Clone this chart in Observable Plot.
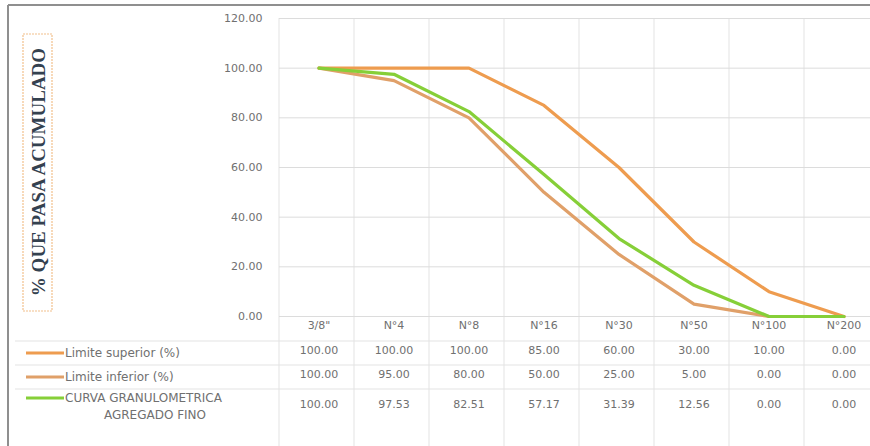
<!DOCTYPE html>
<html>
<head>
<meta charset="utf-8">
<script src="https://cdn.jsdelivr.net/npm/d3@7"></script>
<script src="https://cdn.jsdelivr.net/npm/@observablehq/plot@0.6"></script>
<style>
  html, body { margin: 0; padding: 0; background: #fff; overflow: hidden; }
  #chart { width: 870px; height: 446px; overflow: hidden; position: relative; }
</style>
</head>
<body>
<div id="chart"></div>
<script>
// Sieve sizes (categories) and cumulative % passing for each series
const categories = ['3/8"', "N°4", "N°8", "N°16", "N°30", "N°50", "N°100", "N°200"];
const limiteSuperior = [100, 100, 100, 85, 60, 30, 10, 0];
const limiteInferior = [100, 95, 80, 50, 25, 5, 0, 0];
const curvaGranulometrica = [100, 97.53, 82.51, 57.17, 31.39, 12.56, 0, 0];
const yTicks = [0, 20, 40, 60, 80, 100, 120];
const seriesNames = ["Limite superior (%)", "Limite inferior (%)", "CURVA GRANULOMETRICA AGREGADO FINO"];
const seriesColors = ["#ee9c4f", "#e0a069", "#86cf38"];
const yTitle = "% QUE PASA ACUMULADO";

const seriesValues = [limiteSuperior, limiteInferior, curvaGranulometrica];
const rows = seriesNames.flatMap((name, s) =>
  categories.map((cat, i) => ({series: name, cat, value: seriesValues[s][i]}))
);

const W = 900, H = 446;
const mL = 279, mR = 17, mT = 18, mB = 130;
const fmt = d3.format(".2f");
const textColor = "#707070";

// vertical offset (below the zero line) of each table row's text
const rowDy = [37, 61, 91];

const chart = Plot.plot({
  width: W,
  height: H,
  marginLeft: mL,
  marginRight: mR,
  marginTop: mT,
  marginBottom: mB,
  style: {fontFamily: "'DejaVu Sans', sans-serif", fontSize: "11px", maxWidth: "none", overflow: "visible"},
  x: {type: "band", domain: categories, padding: 0, axis: null},
  y: {domain: [0, 120], axis: null},
  color: {domain: seriesNames, range: seriesColors},
  marks: [
    Plot.gridY(yTicks, {stroke: "#dcdcdc", strokeOpacity: 1}),
    Plot.axisY(yTicks, {tickFormat: fmt, tickSize: 0, tickPadding: 17, fill: textColor, fontSize: 11, label: null}),
    // category header row of the data table
    Plot.text(categories, {x: d => d, frameAnchor: "bottom", dy: 12, fill: textColor, fontSize: 11}),
    // value rows of the data table
    ...seriesNames.map((name, s) =>
      Plot.text(rows.filter(r => r.series === name), {
        x: "cat", text: d => fmt(d.value), frameAnchor: "bottom", dy: rowDy[s], fill: textColor, fontSize: 11
      })
    ),
    Plot.line(rows, {x: "cat", y: "value", z: "series", stroke: "series", strokeWidth: 3.2, strokeLinejoin: "round"})
  ]
});

document.getElementById("chart").appendChild(chart);

// Table grid, legend keys, outer frame and axis title box
const svg = d3.select(chart);
const x = chart.scale("x");
const y = chart.scale("y");
const y0 = y.apply(0);
const bw = x.bandwidth;
const deco = svg.insert("g", ":first-child");

// vertical category separators running through plot and table
for (let i = 0; i <= categories.length; i++) {
  const xv = mL + i * bw;
  deco.append("line")
    .attr("x1", xv).attr("x2", xv)
    .attr("y1", mT).attr("y2", H)
    .attr("stroke", "#e3e3e3");
}
// horizontal table row separators
[25, 49, 73].forEach(dy => {
  deco.append("line")
    .attr("x1", 15).attr("x2", W)
    .attr("y1", y0 + dy).attr("y2", y0 + dy)
    .attr("stroke", "#e3e3e3");
});

// legend keys and series names in the table's first column
const labelGroup = svg.append("g")
  .attr("font-family", "'DejaVu Sans', sans-serif")
  .attr("font-size", 12)
  .attr("text-anchor", "start")
  .attr("fill", textColor);
const keyDy = [37, 61, 82];
seriesNames.forEach((name, s) => {
  const yy = y0 + keyDy[s];
  labelGroup.append("line")
    .attr("x1", 26).attr("x2", 64)
    .attr("y1", yy).attr("y2", yy)
    .attr("stroke", seriesColors[s]).attr("stroke-width", 3);
});
labelGroup.append("text").attr("x", 65).attr("y", y0 + keyDy[0]).attr("dy", "0.35em").text(seriesNames[0]);
labelGroup.append("text").attr("x", 65).attr("y", y0 + keyDy[1]).attr("dy", "0.35em").text(seriesNames[1]);
const words = seriesNames[2].split(" ");
labelGroup.append("text").attr("x", 65).attr("y", y0 + keyDy[2]).attr("dy", "0.35em")
  .text(words.slice(0, 2).join(" "));
labelGroup.append("text").attr("x", 155).attr("y", y0 + keyDy[2] + 17).attr("dy", "0.35em")
  .attr("text-anchor", "middle").text(words.slice(2).join(" "));

// y axis title inside its box
const titleCx = 38, titleCy = 172;
svg.append("rect")
  .attr("x", 23).attr("y", 34).attr("width", 29).attr("height", 277)
  .attr("fill", "none").attr("stroke", "#f2c08c").attr("stroke-width", 1.2)
  .attr("stroke-dasharray", "2,1");
svg.append("text")
  .attr("transform", `translate(${titleCx},${titleCy}) rotate(-90)`)
  .attr("text-anchor", "middle").attr("dy", "0.35em")
  .attr("font-family", "'Liberation Serif', serif")
  .attr("font-size", 19)
  .attr("font-weight", "bold")
  .attr("fill", "#34414f")
  .text(yTitle);

// outer chart frame
const frame = svg.append("g").attr("stroke", "#8f8f8f").attr("stroke-width", 2);
frame.append("line").attr("x1", 8).attr("x2", W).attr("y1", 5).attr("y2", 5);
frame.append("line").attr("x1", 8).attr("x2", 8).attr("y1", 5).attr("y2", H);
</script>
</body>
</html>
